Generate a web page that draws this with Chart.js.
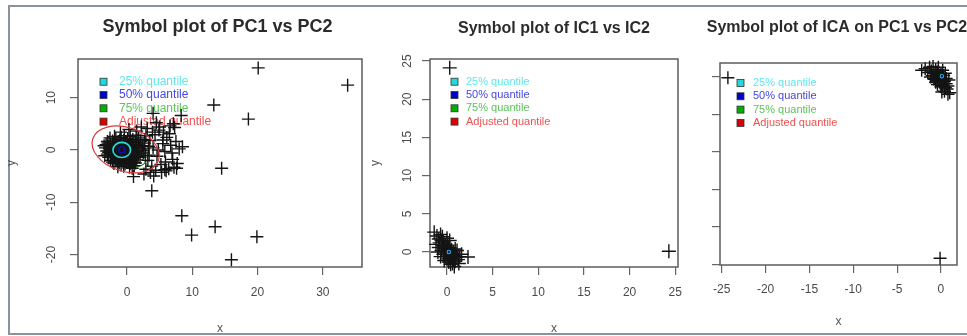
<!DOCTYPE html>
<html>
<head>
<meta charset="utf-8">
<script src="https://cdn.jsdelivr.net/npm/chart.js@4.4.1/dist/chart.umd.min.js"></script>
<style>
  html, body { margin: 0; padding: 0; background: #fff; overflow: hidden; }
  body { width: 967px; height: 336px; position: relative; }
  #frame { position: absolute; left: 8px; top: 5px; width: 990px; height: 330px;
           border: 2px solid #8a929e; box-sizing: border-box; }
  canvas { position: absolute; top: 0; }
</style>
</head>
<body>
<div id="frame"></div>
<canvas id="c1"></canvas>
<canvas id="c2"></canvas>
<canvas id="c3"></canvas>
<script>
// ---- data ----
const quantileLabels = ['25% quantile', '50% quantile', '75% quantile', 'Adjusted quantile'];

// panel 1: PC1 vs PC2
const pcCluster = [
  [-2.6,2.3],[-1.7,2.1],[-0.9,2.4],[0.1,2.2],[0.9,2.0],[1.8,2.3],
  [-3.0,1.6],[-2.2,1.7],[-1.4,1.5],[-0.5,1.8],[0.4,1.6],[1.3,1.4],[2.1,1.7],
  [-3.2,1.0],[-2.5,0.9],[-1.8,1.1],[-1.0,0.8],[-0.2,1.1],[0.7,0.9],[1.5,1.0],[2.4,0.8],
  [-3.3,0.4],[-2.7,0.3],[-2.0,0.5],[-1.3,0.4],[-0.6,0.3],[0.2,0.5],[1.0,0.3],[1.9,0.4],
  [-3.1,-0.2],[-2.4,-0.1],[-1.6,-0.3],[-0.9,-0.2],[-0.1,-0.1],[0.6,-0.3],[1.4,-0.2],[2.2,-0.1],
  [-3.0,-0.8],[-2.2,-0.7],[-1.5,-0.9],[-0.7,-0.8],[0.1,-0.7],[0.9,-0.9],[1.7,-0.8],
  [-2.8,-1.4],[-2.0,-1.3],[-1.2,-1.5],[-0.4,-1.4],[0.4,-1.3],[1.2,-1.5],[2.0,-1.4],
  [-2.5,-2.0],[-1.7,-2.1],[-0.9,-1.9],[-0.1,-2.0],[0.7,-2.1],[1.5,-1.9],
  [-2.0,-2.6],[-1.2,-2.5],[-0.3,-2.7],[0.5,-2.6],[1.3,-2.5],
  [-1.4,-3.2],[-0.5,-3.1],[0.4,-3.3],[1.1,-3.0],
  [-2.9,1.3],[-2.1,1.2],[-1.1,1.9],[-0.3,1.4],[0.6,1.3],[1.7,1.9],[-2.6,0.6],[-1.6,0.7],
  [-0.8,0.6],[0.5,0.1],[1.3,0.6],[2.6,0.2],[-2.8,-0.5],[-1.9,-0.4],[-1.2,-0.6],[-0.4,-0.4],
  [0.3,-1.0],[1.1,-0.5],[2.5,-0.6],[-2.4,-1.1],[-1.6,-1.7],[-0.8,-1.2],[0.0,-1.7],[0.8,-1.6],
  [1.7,-1.2],[-2.2,-2.3],[-1.3,-2.2],[-0.6,-2.4],[0.2,-2.3],[1.0,-2.4],[-0.9,-2.9],[0.8,-3.5],
  [-1.9,2.6],[-0.4,2.7],[0.5,2.6],[1.4,2.8],[-3.4,-1.1],[-3.5,0.8],[2.7,1.3],[2.8,-1.1],
  [2.9,2.7],[3.2,-2.0],[3.5,1.8],[3.8,-3.1],[4.0,0.4],[4.3,2.9],[4.6,-1.2],[4.9,3.8],
  [5.2,-2.8],[5.5,1.2],[5.8,-0.3],[6.1,2.4],[6.4,-3.6],[6.7,0.9],[7.0,-1.8],[3.1,4.1],
  [3.6,-4.3],[4.4,-3.9],[5.0,4.4],[6.0,-4.0],[2.9,-3.7],[3.3,0.7],[4.8,0.0],[5.6,3.4],
  [6.5,3.1],[7.2,-3.3],[7.5,1.6],[6.9,-0.6],[5.3,-4.3],[4.1,-5.0],[2.6,-4.6],[3.9,3.4],
  [2.7,2.0],[3.4,-1.0],[5.9,-2.3],[7.7,-2.6],[7.3,4.3],[8.0,0.2],[1.0,-5.1],[5.5,1.9],
  [6.6,4.6],[4.5,5.2],[2.2,4.4],[1.5,3.6],[-1.0,3.4],[0.3,3.9]
];
const pcOutliers = [
  [20.1,15.7],[33.8,12.4],[13.3,8.6],[18.6,5.9],[4.0,7.0],[8.3,6.6],[7.1,5.0],[14.5,-3.5],
  [3.8,-7.8],[8.4,-12.6],[13.5,-14.7],[9.9,-16.3],[19.9,-16.6],[16.0,-21.0],[8.5,0.6],
  [7.6,-3.5],[5.8,-3.8]
];
const pcXTicks = [0, 10, 20, 30];
const pcYTicks = [-20, -10, 0, 10];
// quantile contours: [cx, cy, rx, ry, tilt in degrees]
const pcEllipses = [[-0.8,0.0,1.35,1.45,0],[-0.8,0.0,0.5,0.6,0],[0.3,-0.5,3.0,2.6,20],[-0.2,0.1,5.3,4.2,18]];

// panel 2: IC1 vs IC2
const icCluster = [
  [-1.4,2.6],[-1.1,2.1],[-0.9,1.7],[-0.7,2.3],[-0.8,1.2],[-0.6,1.5],[-0.5,0.9],[-0.4,1.3],
  [-0.3,0.5],[-0.2,0.8],[-0.1,0.2],[0.0,0.6],[0.1,-0.1],[0.2,0.3],[0.3,-0.4],[0.4,0.1],
  [0.5,-0.7],[0.6,-0.2],[0.7,-0.9],[0.8,-0.5],[0.9,-1.2],[1.0,-0.7],[1.2,-1.0],[1.4,-0.6],
  [-0.6,0.2],[-0.4,-0.3],[-0.2,-0.6],[0.0,-0.9],[0.2,-1.3],[0.4,-1.6],[0.1,0.9],[0.3,0.6],
  [0.5,0.3],[0.7,0.0],[-0.9,0.6],[-1.0,0.0],[-0.3,-1.1],[0.6,-1.5],[0.9,0.4],[1.6,-0.3],
  [2.3,-0.65],[-1.2,1.0],[0.3,1.5],[-0.5,2.0],[0.0,1.8],[1.1,0.2],[1.3,-1.5],[0.8,-1.9],
  [-0.7,-0.6],[0.45,-0.25],[0.15,0.45],[-0.15,0.05],[0.35,-0.85],[0.65,-0.45],[-0.35,0.65],
  [0.0,-0.3],[0.25,-0.55]
];
const icOutliers = [[0.3,24.1],[24.3,0.1]];
const icXTicks = [0, 5, 10, 15, 20, 25];
const icYTicks = [0, 5, 10, 15, 20, 25];
const icEllipses = [[0.2,0.0,0.15,0.2,0],[0.2,0.0,0.06,0.08,0],[0.2,0.0,0.28,0.35,0],null];

// panel 3: ICA on PC1 vs PC2
const icaCluster = [
  [-2.2,0.9],[-1.8,1.1],[-1.5,0.6],[-1.3,1.3],[-1.1,0.8],[-1.0,0.2],[-0.9,1.4],[-0.8,0.5],
  [-0.7,-0.2],[-0.6,1.0],[-0.5,0.3],[-0.4,-0.5],[-0.3,0.7],[-0.2,0.0],[-0.1,-0.8],[0.0,0.4],
  [0.1,-0.3],[0.2,-1.1],[0.3,0.2],[0.4,-0.6],[0.5,-1.4],[0.6,-0.9],[0.7,-1.6],[0.8,-1.2],
  [1.0,-2.1],[0.8,-2.3],[0.4,-1.9],[0.0,-1.3],[-0.4,-1.0],[-0.8,-0.3],[-1.2,0.0],[0.2,0.9],
  [-0.3,1.3],[0.5,0.5],[0.9,-0.4],[0.1,-2.0],[-0.6,-0.7],[-0.15,0.25],[0.15,-0.15],
  [0.35,-0.45],[-0.45,0.55],[0.6,-0.2],[-0.05,-0.55]
];
const icaOutliers = [[-24.3,-0.1],[-0.1,-24.2]];
const icaXTicks = [-25, -20, -15, -10, -5, 0];
const icaYTicks = [-25, -20, -15, -10, -5, 0];
const icaEllipses = [[0.1,0.1,0.15,0.2,0],[0.1,0.1,0.06,0.08,0],[0.1,0.1,0.28,0.35,0],null];

// ---- drawing ----
const FONT = '"Liberation Sans", Arial, sans-serif';
const legendFill = ['#22d8d8', '#0000cc', '#00b000', '#dd0000'];
const legendText = ['#5ee8ec', '#4646e0', '#5cc45c', '#f05050'];
const ellipseColor = ['#22dede', '#1010a0', '#1f8f1f', '#d83a3a'];

function drawEllipse(chart, e, color, width) {
  const {ctx, scales: {x, y}} = chart;
  const cx = x.getPixelForValue(e[0]);
  const cy = y.getPixelForValue(e[1]);
  const rx = Math.abs(x.getPixelForValue(e[0] + e[2]) - cx);
  const ry = Math.abs(y.getPixelForValue(e[1] + e[3]) - cy);
  ctx.save();
  ctx.beginPath();
  ctx.ellipse(cx, cy, rx, ry, e[4] * Math.PI / 180, 0, Math.PI * 2);
  ctx.strokeStyle = color;
  ctx.lineWidth = width;
  ctx.stroke();
  ctx.restore();
}

const rPlot = {
  id: 'rPlot',
  beforeDatasetsDraw(chart, args, o) {
    const {ctx, chartArea: a} = chart;
    ctx.save();
    ctx.strokeStyle = '#5c5c5c';
    ctx.lineWidth = 1.5;
    ctx.strokeRect(a.left, a.top, a.right - a.left, a.bottom - a.top);
    // legend inside the plot box
    ctx.font = o.legendSize + 'px ' + FONT;
    ctx.textBaseline = 'middle';
    ctx.textAlign = 'left';
    quantileLabels.forEach((lab, i) => {
      const yy = a.top + o.legendTop + i * 13.3;
      ctx.fillStyle = legendFill[i];
      ctx.fillRect(a.left + o.legendX, yy - 3.5, 7, 7);
      ctx.strokeStyle = '#333';
      ctx.lineWidth = 0.8;
      ctx.strokeRect(a.left + o.legendX, yy - 3.5, 7, 7);
      ctx.fillStyle = legendText[i];
      ctx.fillText(lab, a.left + o.legendTextX, yy);
    });
    ctx.restore();
    if (o.ellipses[2]) drawEllipse(chart, o.ellipses[2], ellipseColor[2], 1.2);
  },
  afterDatasetsDraw(chart, args, o) {
    const {ctx, chartArea: a} = chart;
    [0, 1, 3].forEach(i => {
      if (o.ellipses[i]) drawEllipse(chart, o.ellipses[i], ellipseColor[i], i === 3 ? 1.2 : 1.6);
    });
    ctx.save();
    ctx.font = 'bold ' + o.titleSize + 'px ' + FONT;
    ctx.fillStyle = '#2b2b2b';
    ctx.textAlign = 'center';
    ctx.textBaseline = 'alphabetic';
    ctx.fillText(o.title, (a.left + a.right) / 2 + o.titleDx, o.titleY);
    ctx.restore();
  }
};

function makePanel(id, p) {
  const cv = document.getElementById(id);
  cv.width = p.width;
  cv.height = 336;
  cv.style.left = p.left + 'px';
  const pts = p.points.map(([x, y]) => ({x, y}));
  new Chart(cv, {
    type: 'scatter',
    data: {
      datasets: [{
        data: pts,
        pointStyle: 'cross',
        pointRadius: p.r,
        pointBorderWidth: 1.4,
        pointBorderColor: '#141414',
        pointBackgroundColor: 'rgba(0,0,0,0)',
        clip: false
      }]
    },
    options: {
      responsive: false,
      animation: false,
      events: [],
      layout: { padding: { left: 0, top: p.box.t, right: p.left + p.width - p.box.r, bottom: 0 } },
      plugins: {
        legend: { display: false },
        tooltip: { enabled: false },
        rPlot: {
          title: p.title, titleSize: p.titleSize, titleY: p.titleY, titleDx: p.titleDx,
          legendX: p.legendX, legendTextX: p.legendTextX, legendTop: p.legendTop,
          legendSize: p.legendSize, ellipses: p.ellipses
        }
      },
      scales: {
        x: {
          type: 'linear',
          min: p.xRange[0], max: p.xRange[1],
          afterBuildTicks: s => { s.ticks = p.xTicks.map(v => ({value: v})); },
          afterFit: s => { s.height = 336 - p.box.b; s.paddingLeft = 0; s.paddingRight = 0; },
          border: { display: false },
          grid: { display: true, drawOnChartArea: false, drawTicks: true, tickLength: 8, color: '#666', lineWidth: 1.2 },
          ticks: { autoSkip: false, maxRotation: 0, padding: p.xTickPad, color: '#4a4a4a',
                   font: { family: FONT, size: 12 }, callback: v => String(v) },
          title: { display: true, text: 'x', color: '#555', font: { family: FONT, size: 12 },
                   padding: { top: 0, bottom: p.xTitlePad } }
        },
        y: {
          type: 'linear',
          min: p.yRange[0], max: p.yRange[1],
          afterBuildTicks: s => { s.ticks = p.yTicks.map(v => ({value: v})); },
          afterFit: s => { s.width = p.box.l - p.left; s.paddingTop = 0; s.paddingBottom = 0; },
          border: { display: false },
          grid: { display: true, drawOnChartArea: false, drawTicks: true, tickLength: 8, color: '#666', lineWidth: 1.2 },
          ticks: { display: p.yLabels, autoSkip: false, minRotation: 90, maxRotation: 90,
                   crossAlign: 'center', padding: p.yTickPad, color: '#4a4a4a',
                   font: { family: FONT, size: 12 }, callback: v => String(v) },
          title: { display: p.yLabels, text: 'y', color: '#555', font: { family: FONT, size: 12 },
                   padding: { top: p.yTitlePad, bottom: 0 } }
        }
      }
    },
    plugins: [rPlot]
  });
}

makePanel('c1', {
  left: 0, width: 385, box: {l: 78, t: 59, r: 362, b: 267},
  points: pcCluster.concat(pcOutliers), r: 6.5,
  xRange: [-7.5, 36], yRange: [-22.4, 17.4], xTicks: pcXTicks, yTicks: pcYTicks,
  xTickPad: 10.8, yTickPad: 10, yLabels: true, xTitlePad: 0, yTitlePad: 4.5,
  title: 'Symbol plot of PC1 vs PC2', titleSize: 18, titleY: 31.5, titleDx: -2.5,
  legendX: 22, legendTextX: 41, legendTop: 22.7, legendSize: 12, ellipses: pcEllipses
});
makePanel('c2', {
  left: 366, width: 335, box: {l: 430, t: 59, r: 678, b: 267},
  points: icCluster.concat(icOutliers), r: 7,
  xRange: [-1.86, 25.3], yRange: [-1.96, 25.26], xTicks: icXTicks, yTicks: icYTicks,
  xTickPad: 10.8, yTickPad: 7.3, yLabels: true, xTitlePad: 0, yTitlePad: 2,
  title: 'Symbol plot of IC1 vs IC2', titleSize: 16, titleY: 32.7, titleDx: 0,
  legendX: 21, legendTextX: 36, legendTop: 22.7, legendSize: 11, ellipses: icEllipses
});
makePanel('c3', {
  left: 692, width: 290, box: {l: 720, t: 63, r: 957, b: 265},
  points: icaCluster.concat(icaOutliers), r: 6.5,
  xRange: [-25.2, 1.83], yRange: [-25.1, 1.87], xTicks: icaXTicks, yTicks: icaYTicks,
  xTickPad: 9.8, yTickPad: 8, yLabels: false, xTitlePad: 6.8, yTitlePad: 0,
  title: 'Symbol plot of ICA on PC1 vs PC2', titleSize: 16, titleY: 31.7, titleDx: -1.5,
  legendX: 17, legendTextX: 33, legendTop: 20, legendSize: 11, ellipses: icaEllipses
});
</script>
</body>
</html>
